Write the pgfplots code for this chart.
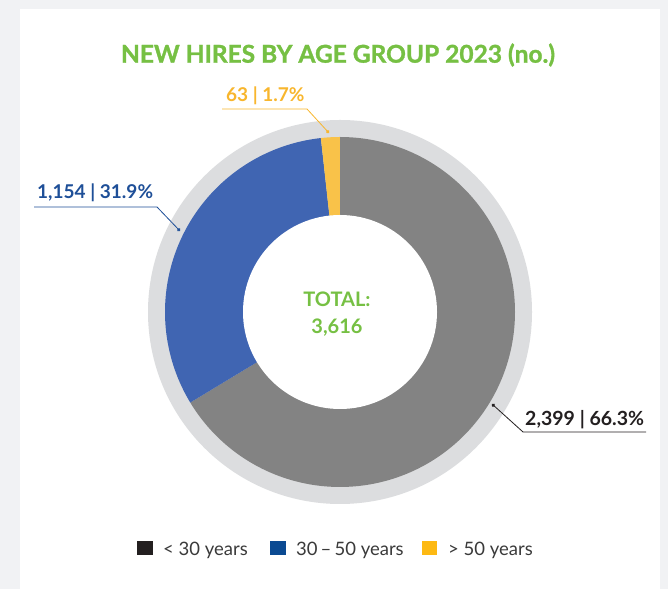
\documentclass[border=0pt]{standalone}
\usepackage{pgfplots}
\pgfplotsset{compat=1.18}
\usepackage{pgfplotstable}
\usepackage{fontspec}
\setmainfont{Lato}
\newfontfamily\heavyfont{Lato}[BoldFeatures={FakeBold=1.2}]
\usetikzlibrary{arrows.meta}

\definecolor{bgout}{HTML}{F1F2F4}
\definecolor{titlegreen}{HTML}{76C043}
\definecolor{segGray}{HTML}{838383}
\definecolor{segBlue}{HTML}{4065B2}
\definecolor{segYellow}{HTML}{F9C249}
\definecolor{ringGray}{HTML}{DCDDDF}
\definecolor{lblBlue}{HTML}{1E4F98}
\definecolor{lblYellow}{HTML}{F8B62D}
\definecolor{lblBlack}{HTML}{231F20}
\definecolor{legBlue}{HTML}{0B4A92}
\definecolor{legYellow}{HTML}{FDB913}
\definecolor{legText}{HTML}{3A3A3A}

\pgfplotstableread{
group value
young 2399
mid 1154
old 63
}\hires

\pgfplotstablegetelem{0}{value}\of\hires \let\vA\pgfplotsretval
\pgfplotstablegetelem{1}{value}\of\hires \let\vB\pgfplotsretval
\pgfplotstablegetelem{2}{value}\of\hires \let\vC\pgfplotsretval
\pgfmathsetmacro\total{\vA+\vB+\vC}
\pgfmathsetmacro\fA{\vA/\total}
\pgfmathsetmacro\fB{\vB/\total}
\pgfmathsetmacro\fC{\vC/\total}
\pgfmathsetmacro\aA{90}
\pgfmathsetmacro\aB{90-360*\fA}
\pgfmathsetmacro\aC{\aB-360*\fB}
\pgfmathsetmacro\aD{\aC-360*\fC}

\begin{document}
\begin{tikzpicture}
\begin{axis}[x=1bp,y=1bp,xmin=0,xmax=668,ymin=0,ymax=589,
  hide axis,scale only axis,clip=false]
\fill[bgout] (axis cs:0,0) rectangle (axis cs:668,589);
\fill[white] (axis cs:20,0) rectangle (axis cs:660,579.5);
\fill[ringGray] (axis cs:340,277) circle[radius=192bp];
\addplot[fill=segGray,draw=none,domain=\aB:\aA,samples=200]
  ({340+175*cos(x)},{277+175*sin(x)}) -- (axis cs:340,277) -- cycle;
\addplot[fill=segBlue,draw=none,domain=\aC:\aB,samples=120]
  ({340+175*cos(x)},{277+175*sin(x)}) -- (axis cs:340,277) -- cycle;
\addplot[fill=segYellow,draw=none,domain=\aD:\aC,samples=20]
  ({340+175*cos(x)},{277+175*sin(x)}) -- (axis cs:340,277) -- cycle;
\fill[white] (axis cs:340,277) circle[radius=97bp];

% title
\node[text=titlegreen,font=\heavyfont\fontsize{24.5bp}{26bp}\selectfont\bfseries] at (axis cs:338,534) {NEW HIRES BY AGE GROUP 2023 (no.)};
% total
\node[text=titlegreen,font=\fontsize{20bp}{21bp}\selectfont\bfseries,anchor=base] at (axis cs:337,282) {TOTAL:};
\node[text=titlegreen,font=\fontsize{20bp}{21bp}\selectfont\bfseries,anchor=base] at (axis cs:337,255) {3,616};

% labels
\node[text=lblYellow,font=\fontsize{19bp}{20bp}\selectfont\bfseries,anchor=base west,inner sep=0pt] at (axis cs:226,487) {63 | 1.7\%};
\draw[lblYellow,line width=0.8bp,-{Circle[length=3.5bp]}] (axis cs:222,480) -- (axis cs:307,480) -- (axis cs:329,456);
\node[text=lblBlue,font=\fontsize{19bp}{20bp}\selectfont\bfseries,anchor=base west,inner sep=0pt] at (axis cs:37,390) {1,154 | 31.9\%};
\draw[lblBlue,line width=0.8bp,-{Circle[length=3.5bp]}] (axis cs:34,382) -- (axis cs:157,382) -- (axis cs:180,358);
\node[text=lblBlack,font=\fontsize{19.5bp}{20bp}\selectfont\bfseries,anchor=base west,inner sep=0pt] at (axis cs:525,163) {2,399 | 66.3\%};
\draw[lblBlack,line width=0.8bp,-{Circle[length=3.5bp]}] (axis cs:646,157) -- (axis cs:523,157) -- (axis cs:492,185);

% legend
\fill[lblBlack] (axis cs:137,34) rectangle (axis cs:153,48);
\node[text=legText,font=\fontsize{18.5bp}{19bp}\selectfont,anchor=base west,inner sep=0pt] at (axis cs:163,33) {< 30 years};
\fill[legBlue] (axis cs:270,34) rectangle (axis cs:286,48);
\node[text=legText,font=\fontsize{18.5bp}{19bp}\selectfont,anchor=base west,inner sep=0pt] at (axis cs:296,33) {30\,–\,50 years};
\fill[legYellow] (axis cs:422,34) rectangle (axis cs:437,48);
\node[text=legText,font=\fontsize{18.5bp}{19bp}\selectfont,anchor=base west,inner sep=0pt] at (axis cs:448,33) {> 50 years};
\end{axis}
\end{tikzpicture}
\end{document}
